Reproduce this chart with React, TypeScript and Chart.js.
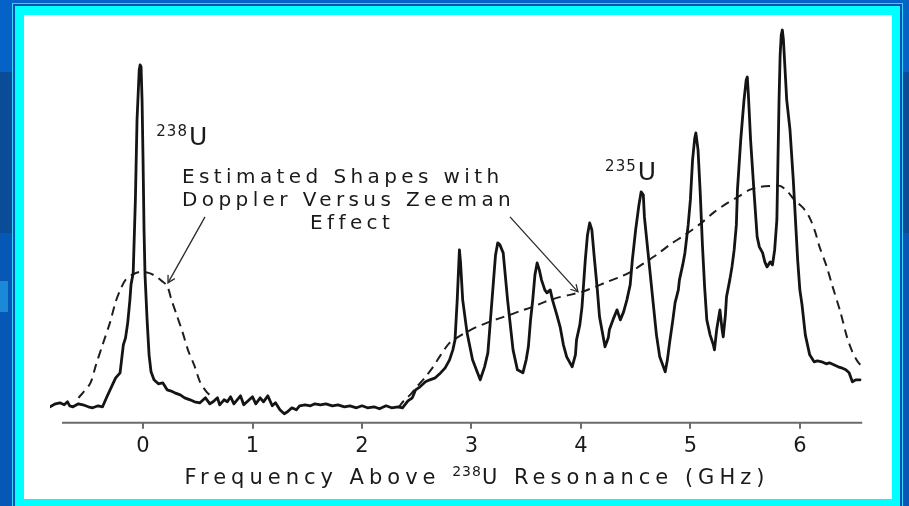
import { useEffect, useRef } from "react";
import { Chart, registerables } from "chart.js";

Chart.register(...registerables);

// Measured absorption spectrum: frequency offset (GHz) and signal (arb. units)
const spectrumGHz = [
  -0.85, -0.8, -0.76, -0.72, -0.69, -0.67, -0.64, -0.59, -0.55, -0.5, -0.46, -0.41, -0.37, -0.33,
  -0.28, -0.25, -0.21, -0.18, -0.16, -0.14, -0.12, -0.11, -0.09, -0.07, -0.055, -0.035, -0.027,
  -0.018, -0.009, 0, 0.009, 0.018, 0.037, 0.055, 0.073, 0.1, 0.14, 0.18, 0.22, 0.25, 0.29, 0.34,
  0.38, 0.43, 0.47, 0.52, 0.57, 0.61, 0.64, 0.68, 0.7, 0.74, 0.77, 0.8, 0.83, 0.86, 0.89, 0.92,
  0.96, 1.0, 1.03, 1.07, 1.1, 1.14, 1.18, 1.21, 1.25, 1.29, 1.32, 1.36, 1.4, 1.43, 1.48, 1.53,
  1.57, 1.62, 1.67, 1.73, 1.78, 1.84, 1.89, 1.95, 2.0, 2.05, 2.11, 2.16, 2.22, 2.27, 2.33, 2.37,
  2.42, 2.46, 2.49, 2.53, 2.58, 2.62, 2.67, 2.71, 2.76, 2.8, 2.83, 2.85, 2.87, 2.89, 2.9, 2.92,
  2.96, 3.01, 3.08, 3.12, 3.15, 3.17, 3.2, 3.22, 3.24, 3.26, 3.29, 3.33, 3.38, 3.42, 3.47, 3.5,
  3.52, 3.54, 3.56, 3.58, 3.6, 3.62, 3.64, 3.67, 3.69, 3.72, 3.74, 3.78, 3.81, 3.84, 3.87, 3.92,
  3.95, 3.96, 3.99, 4.01, 4.04, 4.06, 4.08, 4.1, 4.12, 4.15, 4.17, 4.2, 4.22, 4.25, 4.26, 4.3,
  4.33, 4.36, 4.39, 4.42, 4.45, 4.47, 4.5, 4.53, 4.55, 4.57, 4.58, 4.62, 4.66, 4.69, 4.72, 4.77,
  4.79, 4.81, 4.84, 4.86, 4.89, 4.9, 4.93, 4.95, 4.98, 5.0, 5.02, 5.04, 5.05, 5.07, 5.09, 5.11,
  5.13, 5.15, 5.18, 5.21, 5.22, 5.24, 5.27, 5.29, 5.3, 5.32, 5.33, 5.36, 5.38, 5.4, 5.42, 5.43,
  5.46, 5.49, 5.51, 5.52, 5.53, 5.55, 5.58, 5.61, 5.63, 5.66, 5.68, 5.7, 5.73, 5.75, 5.77, 5.79,
  5.8, 5.81, 5.82, 5.83, 5.84, 5.85, 5.86, 5.88, 5.91, 5.94, 5.95, 5.98, 6.0, 6.02, 6.05, 6.09,
  6.13, 6.16, 6.2, 6.24, 6.27, 6.31, 6.35, 6.38, 6.42, 6.45, 6.47, 6.48, 6.51, 6.55,
];
const spectrumSignal = [
  4.0, 4.75, 5.0, 4.5, 5.25, 4.25, 4.0, 4.75, 4.5, 4.0, 3.75, 4.25, 4.0, 6.5,
  9.5, 11.25, 12.5, 19.5, 21.25, 25, 30.75, 34.5, 37.5, 55.75, 75.75, 88.25, 89.5,
  89, 80.75, 65.75, 48.25, 37, 25.75, 17, 12.75, 10.75, 9.75, 10, 8.25, 8, 7.5, 7,
  6.25, 5.75, 5.25, 5, 6.25, 4.75, 5.25, 6.25, 4.5, 5.75, 5.25, 6.5, 4.75, 5.75, 6.75, 4.5,
  5.5, 6.5, 4.75, 6.25, 5.25, 6.75, 4.25, 5, 3.25, 2.25, 2.75, 3.75, 3.25, 4.25, 4.5, 4.25,
  4.75, 4.5, 4.75, 4.25, 4.5, 4, 4.25, 3.75, 4.25, 3.75, 4, 3.5, 4.25, 3.75, 4, 3.75,
  5.5, 6.25, 8.25, 9, 10.25, 10.75, 11.25, 12.25, 13.75, 15.75, 18.25, 20.75, 30.75, 43.25, 40.25, 30.75,
  22.5, 15.75, 10.75, 14, 17.5, 24.5, 35, 42, 45, 44.5, 42.5, 30.75, 18.25, 13.25, 12.5, 15.75,
  19, 25.75, 30.75, 37, 40, 38.25, 35.75, 33.25, 32.5, 33.25, 30.75, 27, 24, 19.5, 16.5, 14,
  17, 20.75, 24.5, 29, 40.75, 47, 50, 48.25, 42, 33.25, 26.5, 22, 19, 21.25, 23.25, 26.25,
  28.25, 25.75, 27.75, 30.75, 34.5, 40.75, 48.25, 54.5, 57.75, 57, 51.5, 40.75, 30, 22, 16.5, 12.75,
  15.75, 20, 25.75, 30, 33.25, 35.75, 39.5, 42.5, 49.5, 55.75, 65.75, 71.25, 72.5, 68.25, 57.5, 44.5,
  34, 25.75, 22, 19.5, 18.25, 23.25, 28.25, 23.25, 21.5, 27, 31.5, 35.75, 39, 43.25, 49.5, 58.25,
  70.75, 80.75, 85.75, 86.5, 82, 70.75, 58.25, 46.5, 44, 42.5, 40.25, 39, 40.25, 39.5, 43.25, 50.75,
  65.75, 80.75, 92, 97, 98.25, 95.75, 90.75, 80.75, 73.25, 60.75, 55.75, 40.75, 33.25, 29.5, 22, 17,
  15.25, 15.5, 15.25, 14.75, 15, 14.5, 14, 13.75, 13.25, 12.5, 11, 10.25, 10.75, 10.75,
];

// Estimated Doppler-broadened shape of the 238U line
const doppler238GHz = [
  -0.59, -0.55, -0.48, -0.43, -0.37, -0.3, -0.25, -0.2, -0.16, -0.1, -0.03, 0.05, 0.11, 0.17,
  0.22, 0.26, 0.31, 0.36, 0.41, 0.47, 0.52, 0.58, 0.63,
];
const doppler238Signal = [
  6.25, 7.5, 10, 14.5, 19.5, 25.25, 30.25, 33.75, 35.75, 37, 37.75, 37.5, 36.75, 35.5,
  34.25, 30.75, 26.75, 22.75, 18.25, 14.25, 10.25, 7.75, 6.5,
];

// Estimated Doppler-broadened envelope of the 235U hyperfine structure
const doppler235GHz = [
  2.33, 2.39, 2.44, 2.5, 2.58, 2.65, 2.72, 2.8, 2.88, 2.96, 3.05, 3.14, 3.24, 3.35, 3.45, 3.56,
  3.67, 3.78, 3.9, 4.01, 4.13, 4.24, 4.36, 4.47, 4.58, 4.69, 4.81, 4.95, 5.09, 5.22, 5.34, 5.45,
  5.54, 5.63, 5.73, 5.82, 5.89, 5.95, 6.03, 6.09, 6.14, 6.18, 6.24, 6.3, 6.37, 6.43, 6.48, 6.53,
  6.58,
];
const doppler235Signal = [
  3.75, 5.75, 7, 9, 11.5, 14, 17, 20, 21.5, 22.75, 24, 25, 26, 27, 28, 29,
  30.25, 31.25, 32, 32.75, 34, 35.25, 36.5, 38, 40, 42, 44.5, 47, 49.75, 52.75, 55, 56.75,
  58.25, 59, 59.25, 59.25, 57.75, 55.75, 53.75, 51.25, 47.75, 44, 39.5, 34, 27.75, 21.5, 17.75, 15.25,
  13.75,
];

const tickValues = [0, 1, 2, 3, 4, 5, 6];
// axis title, split around the superscript mass number
const axisTitleParts = ["Frequency Above ", "238", "U Resonance (GHz)"];
const noteLines = ["Estimated Shapes with", "Doppler Versus Zeeman", "Effect"];
const isotopeLabels = [
  { mass: "238", x: 0.41, y: 69.5 },
  { mass: "235", x: 4.51, y: 60.75 },
];

const FONT = "'DejaVu Sans', 'Liberation Sans', sans-serif";
const INK = "#1a1a1a";

const toPoints = (xs: number[], ys: number[]) => xs.map((x, i) => ({ x, y: ys[i] }));

function arrow(ctx: CanvasRenderingContext2D, x0: number, y0: number, x1: number, y1: number) {
  ctx.beginPath();
  ctx.moveTo(x0, y0);
  ctx.lineTo(x1, y1);
  ctx.stroke();
  const a = Math.atan2(y1 - y0, x1 - x0);
  const len = 8;
  const spread = 0.5;
  ctx.beginPath();
  ctx.moveTo(x1 - len * Math.cos(a - spread), y1 - len * Math.sin(a - spread));
  ctx.lineTo(x1, y1);
  ctx.lineTo(x1 - len * Math.cos(a + spread), y1 - len * Math.sin(a + spread));
  ctx.stroke();
}

const axisLine = {
  id: "axisLine",
  beforeDatasetsDraw(chart: any) {
    const { ctx, chartArea, scales } = chart;
    const x = scales.x;
    ctx.save();
    ctx.strokeStyle = "#6b6b6b";
    ctx.lineWidth = 2;
    ctx.beginPath();
    ctx.moveTo(x.getPixelForValue(-0.74), chartArea.bottom);
    ctx.lineTo(x.getPixelForValue(6.57), chartArea.bottom);
    ctx.stroke();
    ctx.restore();
  },
};

// x-axis title with a raised mass number, tracked out wide
const axisTitle = {
  id: "axisTitle",
  afterDraw(chart: any) {
    const { ctx, chartArea, scales } = chart;
    const segs = [
      { t: axisTitleParts[0], size: 21, ls: 5, rise: 0 },
      { t: axisTitleParts[1], size: 14, ls: 1, rise: 8 },
      { t: axisTitleParts[2], size: 21, ls: 5, rise: 0 },
    ];
    ctx.save();
    ctx.fillStyle = INK;
    ctx.textAlign = "left";
    ctx.textBaseline = "alphabetic";
    let total = 0;
    const widths = segs.map((s) => {
      ctx.font = `${s.size}px ${FONT}`;
      ctx.letterSpacing = `${s.ls}px`;
      const w = ctx.measureText(s.t).width;
      total += w;
      return w;
    });
    let x = scales.x.getPixelForValue(3.05) - total / 2;
    const base = chartArea.bottom + 61;
    segs.forEach((s, i) => {
      ctx.font = `${s.size}px ${FONT}`;
      ctx.letterSpacing = `${s.ls}px`;
      ctx.fillText(s.t, x, base - s.rise);
      x += widths[i];
    });
    ctx.restore();
  },
};

const notes = {
  id: "notes",
  afterDatasetsDraw(chart: any) {
    const { ctx, scales } = chart;
    const px = (v: number) => scales.x.getPixelForValue(v);
    const py = (v: number) => scales.y.getPixelForValue(v);
    ctx.save();
    ctx.fillStyle = INK;
    ctx.letterSpacing = "4.4px";
    ctx.font = `20px ${FONT}`;
    ctx.textBaseline = "middle";
    ctx.textAlign = "left";
    ctx.fillText(noteLines[0], px(0.356), py(61.25));
    ctx.fillText(noteLines[1], px(0.356), py(55.5));
    ctx.textAlign = "center";
    ctx.fillText(noteLines[2], px(1.91), py(49.75));

    // isotope labels: small mass number followed by the element symbol
    isotopeLabels.forEach((lab) => {
      const x = px(lab.x);
      const y = py(lab.y);
      ctx.textBaseline = "alphabetic";
      ctx.letterSpacing = "1px";
      ctx.font = `15px ${FONT}`;
      ctx.textAlign = "right";
      ctx.fillText(lab.mass, x, y - 9);
      ctx.letterSpacing = "0px";
      ctx.font = `25px ${FONT}`;
      ctx.textAlign = "left";
      ctx.fillText("U", x + 1, y);
    });

    ctx.strokeStyle = "#2a2a2a";
    ctx.lineWidth = 1.3;
    arrow(ctx, px(0.566), py(51.5), px(0.228), py(35));
    arrow(ctx, px(3.352), py(51.5), px(3.973), py(32.75));
    ctx.restore();
  },
};

export default function App() {
  const canvasRef = useRef<HTMLCanvasElement | null>(null);

  useEffect(() => {
    const canvas = canvasRef.current;
    if (!canvas) return;
    const chart = new Chart(canvas, {
      type: "line",
      data: {
        datasets: [
          {
            data: toPoints(spectrumGHz, spectrumSignal),
            borderColor: "#141414",
            borderWidth: 2.8,
            pointRadius: 0,
            tension: 0,
            borderJoinStyle: "round",
            borderCapStyle: "round",
          },
          {
            data: toPoints(doppler238GHz, doppler238Signal),
            borderColor: "#1e1e1e",
            borderWidth: 2,
            borderDash: [9, 6],
            pointRadius: 0,
            tension: 0.3,
          },
          {
            data: toPoints(doppler235GHz, doppler235Signal),
            borderColor: "#1e1e1e",
            borderWidth: 2,
            borderDash: [9, 6],
            pointRadius: 0,
            tension: 0.3,
          },
        ],
      },
      options: {
        animation: false,
        responsive: false,
        events: [],
        layout: { padding: { left: 26, right: 21, top: 8, bottom: 35 } },
        plugins: { legend: { display: false }, tooltip: { enabled: false } },
        scales: {
          x: {
            type: "linear",
            min: -0.85,
            max: 6.65,
            afterBuildTicks: (scale: any) => {
              scale.ticks = tickValues.map((v) => ({ value: v }));
            },
            grid: {
              drawOnChartArea: false,
              drawTicks: true,
              tickLength: 6,
              color: "#6b6b6b",
              lineWidth: 2,
            },
            border: { display: false },
            ticks: {
              color: INK,
              font: { family: FONT, size: 21 },
              padding: 5,
              maxRotation: 0,
              autoSkip: false,
            },
          },
          y: { display: false, min: 0, max: 100 },
        },
      },
      plugins: [axisLine, notes, axisTitle],
    });
    return () => chart.destroy();
  }, []);

  const abs = (l: number, t: number, w: number, h: number, bg: string) => (
    <div style={{ position: "absolute", left: l, top: t, width: w, height: h, background: bg }} />
  );

  return (
    <div
      style={{
        position: "fixed",
        left: 0,
        top: 0,
        width: 909,
        height: 506,
        overflow: "hidden",
        background: "#0562c6",
      }}
    >
      {abs(0, 72, 909, 161, "#0b4c98")}
      {abs(0, 233, 909, 273, "#0758b6")}
      {abs(0, 281, 8, 31, "#1a8ad8")}
      {abs(12, 3, 891, 510, "#35d6f4")}
      {abs(13, 4, 889, 510, "#0a4fb8")}
      {abs(15, 6, 885, 510, "#00ffff")}
      <div style={{ position: "absolute", left: 24, top: 15, width: 868, height: 484, background: "#ffffff" }}>
        <canvas ref={canvasRef} width={868} height={484} style={{ display: "block" }} />
      </div>
    </div>
  );
}
